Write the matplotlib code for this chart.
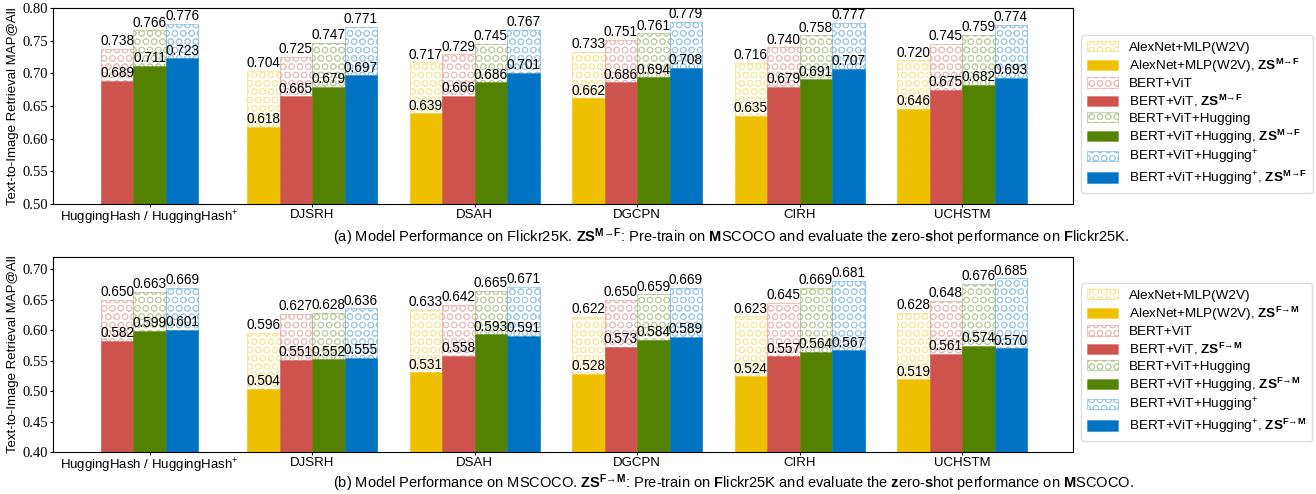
import numpy as np
import matplotlib
matplotlib.use('agg')
import matplotlib.pyplot as plt
from matplotlib.colors import to_rgba
from matplotlib.patches import Patch

plt.rcParams['font.family'] = ['Liberation Sans', 'DejaVu Sans']
plt.rcParams['mathtext.fontset'] = 'custom'
plt.rcParams['mathtext.rm'] = 'Liberation Sans'
plt.rcParams['mathtext.it'] = 'Liberation Sans:italic'
plt.rcParams['mathtext.bf'] = 'Liberation Sans:bold'
plt.rcParams['mathtext.default'] = 'regular'
plt.rcParams['hatch.linewidth'] = 0.7
plt.rcParams['xtick.major.size'] = 2
plt.rcParams['ytick.major.size'] = 2
plt.rcParams['xtick.major.pad'] = 1.8
plt.rcParams['ytick.major.pad'] = 1.5

# data
groups = ['HuggingHash / HuggingHash$^{+}$', 'DJSRH', 'DSAH', 'DGCPN', 'CIRH', 'UCHSTM']
models = ['AlexNet+MLP(W2V)', 'BERT+ViT', 'BERT+ViT+Hugging', 'BERT+ViT+Hugging$^{+}$']
colors = ['#EFC000', '#CD534C', '#538200', '#0073C2']

# (a) Flickr25K
flickr_full = [
    [None, 0.704, 0.717, 0.733, 0.716, 0.720],
    [0.738, 0.725, 0.729, 0.751, 0.740, 0.745],
    [0.766, 0.747, 0.745, 0.761, 0.758, 0.759],
    [0.776, 0.771, 0.767, 0.779, 0.777, 0.774],
]
flickr_zs = [
    [None, 0.618, 0.639, 0.662, 0.635, 0.646],
    [0.689, 0.665, 0.666, 0.686, 0.679, 0.675],
    [0.711, 0.679, 0.686, 0.694, 0.691, 0.682],
    [0.723, 0.697, 0.701, 0.708, 0.707, 0.693],
]
# (b) MSCOCO
coco_full = [
    [None, 0.596, 0.633, 0.622, 0.623, 0.628],
    [0.650, 0.627, 0.642, 0.650, 0.645, 0.648],
    [0.663, 0.628, 0.665, 0.659, 0.669, 0.676],
    [0.669, 0.636, 0.671, 0.669, 0.681, 0.685],
]
coco_zs = [
    [None, 0.504, 0.531, 0.528, 0.524, 0.519],
    [0.582, 0.551, 0.558, 0.573, 0.557, 0.561],
    [0.599, 0.552, 0.593, 0.584, 0.564, 0.574],
    [0.601, 0.555, 0.591, 0.589, 0.567, 0.570],
]

W = 0.2
FS = 9.5
HATCH = 'OO'


def draw(ax, full, zs, ylim, yticks):
    for g in range(len(groups)):
        present = [m for m in range(4) if full[m][g] is not None]
        n = len(present)
        for k, m in enumerate(present):
            x = g + (k - (n - 1) / 2) * W
            c = colors[m]
            ax.bar(x, full[m][g] - ylim[0], W, bottom=ylim[0], facecolor='white',
                   edgecolor=to_rgba(c, 0.32), hatch=HATCH, linewidth=0.8, zorder=1)
            ax.bar(x, zs[m][g] - ylim[0], W, bottom=ylim[0], color=c,
                   edgecolor=to_rgba(c, 0.5), linewidth=0.5, zorder=2)
            ax.text(x, full[m][g] + 0.001, '%.3f' % full[m][g], ha='center', va='bottom',
                    fontsize=9.8, zorder=3)
            ax.text(x, zs[m][g] + 0.001, '%.3f' % zs[m][g], ha='center', va='bottom',
                    fontsize=9.8, zorder=3)
    ax.set_xlim(-0.595, 5.683)
    ax.set_ylim(*ylim)
    ax.set_yticks(yticks)
    ax.set_yticklabels(['%.2f' % t for t in yticks], family='Liberation Serif', fontsize=10.5)
    ax.set_xticks(range(len(groups)))
    ax.set_xticklabels(groups, fontsize=FS)
    ax.set_ylabel('Text-to-Image Retrieval MAP@All', fontsize=FS)
    ax.yaxis.set_label_coords(-0.033, 0.5)


def legend(fig, tag, y):
    handles = []
    for m in range(4):
        c = colors[m]
        handles.append(Patch(facecolor='white', edgecolor=to_rgba(c, 0.32), hatch=HATCH, linewidth=0.8,
                             label=models[m]))
        handles.append(Patch(facecolor=c, edgecolor=to_rgba(c, 0.5), linewidth=0.5,
                             label=models[m] + r', $\mathbf{ZS}^{\mathbf{' + tag + '}}$'))
    fig.legend(handles=handles, loc='upper left', bbox_to_anchor=(1081 / 1316, y),
               borderaxespad=0, fontsize=9.7, handlelength=2.3, handleheight=0.8,
               labelspacing=0.2, borderpad=0.45, handletextpad=0.8, fancybox=True,
               framealpha=1, edgecolor='#dddddd')


fig = plt.figure(figsize=(13.16, 4.94), dpi=100)
ax1 = fig.add_axes([53 / 1316, 1 - 204 / 494, 1020 / 1316, 196 / 494])
ax2 = fig.add_axes([53 / 1316, 1 - 452 / 494, 1020 / 1316, 195 / 494])

draw(ax1, flickr_full, flickr_zs, (0.5, 0.8), np.arange(0.50, 0.801, 0.05))
draw(ax2, coco_full, coco_zs, (0.4, 0.72), np.arange(0.40, 0.701, 0.05))

legend(fig, 'M→F', 1 - 35 / 494)
legend(fig, 'F→M', 1 - 283 / 494)

fig.text(333 / 1316, 1 - 237 / 494,
         r'(a) Model Performance on Flickr25K. $\mathbf{ZS}^{\mathbf{M→F}}$: Pre-train on '
         r'$\mathbf{M}$SCOCO and evaluate the $\mathbf{z}$ero-$\mathbf{s}$hot performance on $\mathbf{F}$lickr25K.',
         ha='left', va='center', fontsize=10.5)
fig.text(333 / 1316, 1 - 483 / 494,
         r'(b) Model Performance on MSCOCO. $\mathbf{ZS}^{\mathbf{F→M}}$: Pre-train on '
         r'$\mathbf{F}$lickr25K and evaluate the $\mathbf{z}$ero-$\mathbf{s}$hot performance on $\mathbf{M}$SCOCO.',
         ha='left', va='center', fontsize=10.5)

fig.savefig('out.png', dpi=100)
